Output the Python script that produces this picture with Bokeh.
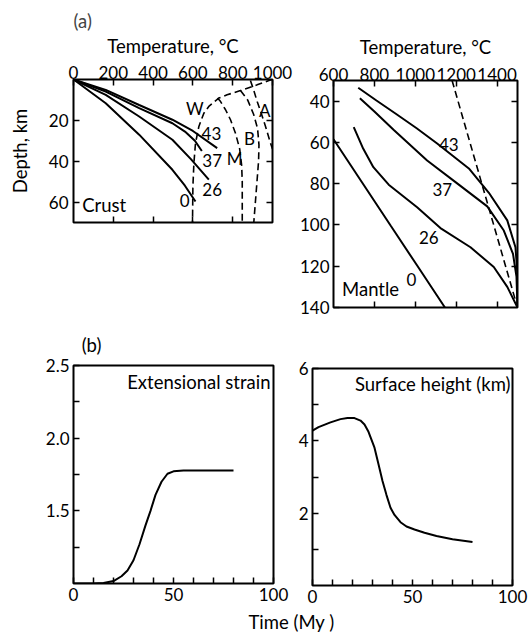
from bokeh.plotting import figure
from bokeh.layouts import column, row
from bokeh.models import LinearAxis, FixedTicker, Range1d, PrintfTickFormatter
from bokeh.core.properties import value
from bokeh.embed import file_html
from bokeh.resources import INLINE

FONT = "Lato"
FS = "17px"       # tick numbers and curve labels
FS_WORD = "18.5px"  # axis titles and panel captions
W_PAGE = 528

# ---- (a) crust geotherms: temperature (deg C) vs depth (km), labelled by time (My)
crust_labels = ["43", "37", "26", "0"]
crust_T = [
    [0, 162, 330, 497, 600, 722],
    [0, 162, 330, 497, 560, 610, 645],
    [0, 162, 330, 497, 590, 680],
    [0, 162, 330, 497, 560, 613],
]
crust_d = [
    [0, 5.1, 12.5, 19.7, 25.2, 33.6],
    [0, 5.9, 14.0, 21.4, 25.5, 30.0, 35.0],
    [0, 7.5, 18.1, 29.5, 39.0, 49.0],
    [0, 11.6, 27.0, 44.2, 52.0, 59.7],
]
crust_label_T = [693, 697, 697, 559]
crust_label_d = [26.3, 39.8, 54.0, 59.3]

# melting reaction curves in the crust
melt_names = ["W", "M", "B", "A"]
melt_T = [
    [1000, 982, 923, 839, 772, 730, 680, 655, 630, 613, 605, 600, 598],
    [724, 739, 764, 789, 814, 835, 845, 848, 848],
    [839, 875, 905, 925, 932, 930, 922, 914, 906],
    [889, 905, 923, 945, 965, 990, 1000],
]
melt_d = [
    [0, 0.5, 2.6, 5.4, 7.5, 9.1, 13.2, 16.5, 23.0, 31.2, 41.0, 52.4, 70],
    [9.1, 10.8, 14.8, 19.7, 26.3, 34.0, 42.0, 50.0, 70],
    [5.4, 10.0, 17.0, 24.0, 32.0, 40.0, 50.0, 60.0, 70],
    [0.5, 5.0, 10.8, 17.0, 23.0, 31.2, 34.0],
]
melt_label_T = [609, 810, 885, 961]
melt_label_d = [14.4, 38.9, 29.1, 15.3]

# ---- (a) mantle geotherms
mantle_T = [
    [721, 810, 903, 1005, 1107, 1262, 1360, 1450, 1490, 1500, 1500],
    [729, 800, 895, 1058, 1200, 1352, 1433, 1478, 1495, 1500],
    [699, 745, 795, 870, 1009, 1123, 1270, 1384, 1450, 1500],
    [600, 740, 880, 1010, 1145],
]
mantle_d = [
    [33.5, 39.7, 46.0, 53.0, 60.5, 72.6, 84.4, 97.8, 110.8, 124.0, 140],
    [38.6, 45.0, 54.0, 68.8, 79.5, 91.0, 102.7, 114.0, 125.0, 140],
    [52.6, 63.0, 72.0, 80.5, 91.4, 101.5, 110.8, 120.4, 130.0, 140],
    [58.5, 79.4, 100.4, 119.8, 140],
]
mantle_label_T = [1164, 1132, 1066, 981]
mantle_label_d = [61.2, 82.9, 106.3, 126.5]
solidus_T = [1180, 1500]
solidus_d = [30, 140]

# ---- (b) time series
strain_t = [0, 10, 15, 20, 24, 27, 30, 33, 36, 38.5, 41, 44, 47, 50, 55, 65, 80]
strain = [1.0, 1.0, 1.004, 1.017, 1.05, 1.09, 1.16, 1.27, 1.40, 1.50, 1.61, 1.70,
          1.755, 1.772, 1.777, 1.777, 1.777]
height_t = [0, 3, 9, 14, 17.5, 21, 24, 26, 28, 31, 33, 35, 37, 39, 41, 44, 47,
            51, 56, 62, 70, 80]
height = [4.28, 4.38, 4.51, 4.60, 4.63, 4.63, 4.56, 4.45, 4.25, 3.81, 3.35, 2.89,
          2.50, 2.15, 1.95, 1.75, 1.63, 1.55, 1.46, 1.37, 1.28, 1.20]


def base_style(p):
    p.outline_line_color = "black"
    p.outline_line_width = 2
    p.xgrid.visible = False
    p.ygrid.visible = False
    p.border_fill_color = "white"
    p.frame_align = False


def axis_style(ax, standoff=3):
    ax.axis_line_color = None
    ax.major_tick_in = 6
    ax.major_tick_out = 0
    ax.minor_tick_in = 6
    ax.minor_tick_out = 0
    ax.major_tick_line_width = 1.5
    ax.minor_tick_line_width = 1.5
    ax.major_label_text_font = FONT
    ax.major_label_text_font_size = FS
    ax.major_label_text_color = "black"
    ax.major_label_standoff = standoff
    ax.axis_label_text_font = FONT
    ax.axis_label_text_font_size = FS_WORD
    ax.axis_label_text_font_style = "normal"
    ax.axis_label_text_color = "black"


def tick_only_axis(p, side, ticks):
    # ticks without numbers, drawn as minor ticks so no labels are produced
    ax = LinearAxis(ticker=FixedTicker(ticks=[], minor_ticks=ticks))
    axis_style(ax)
    ax.major_label_standoff = 0
    p.add_layout(ax, side)


def text(p, x, y, t, align="center", size=FS):
    p.text(x=x, y=y, text=t, text_font=value(FONT), text_font_size=value(size),
           text_align=align, text_baseline="middle", text_color="black")


def strip(height, x, y, t):
    s = figure(width=W_PAGE, height=height, x_range=Range1d(0, W_PAGE),
               y_range=Range1d(0, height), x_axis_type=None, y_axis_type=None,
               output_backend="svg", toolbar_location=None, min_border=0)
    s.outline_line_color = None
    s.xgrid.visible = False
    s.ygrid.visible = False
    s.frame_align = False
    text(s, [x], [y], [t], size=FS_WORD)
    return s


# ---------------- crust panel
p1 = figure(width=296, height=320, x_range=Range1d(0, 1000), y_range=Range1d(70, 0),
            x_axis_location="above", output_backend="svg", toolbar_location=None,
            title="(a)",
            min_border_left=73, min_border_right=24, min_border_top=79, min_border_bottom=98)
base_style(p1)
p1.title.text_font = FONT
p1.title.text_font_size = FS_WORD
p1.title.text_font_style = "normal"
p1.title.align = "left"
p1.title.standoff = 0
p1.xaxis.ticker = FixedTicker(ticks=[0, 200, 400, 600, 800, 1000], minor_ticks=[])
p1.yaxis.ticker = FixedTicker(ticks=[20, 40, 60], minor_ticks=[])
for ax in p1.xaxis:
    axis_style(ax, standoff=1)
    ax.axis_label = "Temperature, °C"
    ax.axis_label_standoff = 6
for ax in p1.yaxis:
    axis_style(ax, standoff=5)
    ax.axis_label = "Depth, km"
    ax.axis_label_standoff = 15
tick_only_axis(p1, "below", [200, 400, 600, 800])
tick_only_axis(p1, "right", [20, 40, 60])

for T, d in zip(crust_T, crust_d):
    p1.line(T, d, line_color="black", line_width=2)
for T, d in zip(melt_T, melt_d):
    p1.line(T, d, line_color="black", line_width=1.6, line_dash="7 4")
text(p1, crust_label_T, crust_label_d, crust_labels)
text(p1, melt_label_T, melt_label_d, melt_names)
text(p1, [44], [61.5], ["Crust"], align="left", size=FS_WORD)

# ---------------- mantle panel
p2 = figure(width=232, height=320, x_range=Range1d(600, 1500), y_range=Range1d(140, 30),
            x_axis_location="above", output_backend="svg", toolbar_location=None,
            min_border_left=37, min_border_right=11, min_border_top=80, min_border_bottom=13)
base_style(p2)
p2.xaxis.ticker = FixedTicker(ticks=[600, 800, 1000, 1200, 1400], minor_ticks=[])
p2.yaxis.ticker = FixedTicker(ticks=[40, 60, 80, 100, 120, 140], minor_ticks=[])
for ax in p2.xaxis:
    axis_style(ax, standoff=0)
    ax.axis_label = "Temperature, °C"
    ax.axis_label_standoff = 7
for ax in p2.yaxis:
    axis_style(ax, standoff=4)
tick_only_axis(p2, "below", [800, 1000, 1200, 1400])
tick_only_axis(p2, "right", [40, 60, 80, 100, 120])

for T, d in zip(mantle_T, mantle_d):
    p2.line(T, d, line_color="black", line_width=2)
p2.line(solidus_T, solidus_d, line_color="black", line_width=1.6, line_dash="7 4")
text(p2, mantle_label_T, mantle_label_d, crust_labels)
text(p2, [642], [130.9], ["Mantle"], align="left", size=FS_WORD)

# ---------------- extensional strain panel
p3 = figure(width=289, height=254, x_range=Range1d(0, 100), y_range=Range1d(1.0, 2.5),
            output_backend="svg", toolbar_location=None,
            min_border_left=73, min_border_right=16, min_border_top=9, min_border_bottom=27)
base_style(p3)
p3.xaxis.ticker = FixedTicker(ticks=[0, 50, 100], minor_ticks=[10, 20, 30, 40, 60, 70, 80, 90])
p3.yaxis.ticker = FixedTicker(ticks=[1.5, 2.0, 2.5], minor_ticks=[1.25, 1.75, 2.25])
p3.yaxis.formatter = PrintfTickFormatter(format="%.1f")
for ax in p3.xaxis:
    axis_style(ax, standoff=4)
for ax in p3.yaxis:
    axis_style(ax, standoff=4)
p3.line(strain_t, strain, line_color="black", line_width=2)
text(p3, [98.5], [2.385], ["Extensional strain"], align="right", size=FS_WORD)

# ---------------- surface height panel
p4 = figure(width=239, height=254, x_range=Range1d(0, 100), y_range=Range1d(0, 6),
            output_backend="svg", toolbar_location=None,
            min_border_left=23, min_border_right=16, min_border_top=12, min_border_bottom=25)
base_style(p4)
p4.xaxis.ticker = FixedTicker(ticks=[0, 50, 100], minor_ticks=[10, 20, 30, 40, 60, 70, 80, 90])
p4.yaxis.ticker = FixedTicker(ticks=[2, 4, 6], minor_ticks=[1, 3, 5])
for ax in p4.xaxis:
    axis_style(ax, standoff=4)
for ax in p4.yaxis:
    axis_style(ax, standoff=4)
p4.line(height_t, height, line_color="black", line_width=2)
text(p4, [99], [5.58], ["Surface height (km)"], align="right", size=FS_WORD)

# ---------------- panel letter (b) and the shared time axis title
s_b = strip(36, 91, 12, "(b)")
s_t = strip(23, 291, 11.5, "Time (My )")

layout = column(row(p1, p2), s_b, row(p3, p4), s_t)
open("out.html", "w").write(file_html(layout, INLINE))
